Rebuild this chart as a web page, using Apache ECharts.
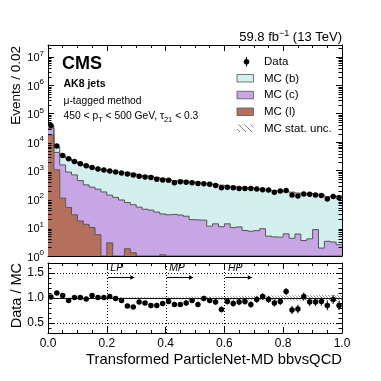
<!DOCTYPE html>
<html><head><meta charset="utf-8">
<script src="https://cdn.jsdelivr.net/npm/echarts@6.0.0/dist/echarts.min.js"></script>
<style>html,body{margin:0;padding:0;background:#fff}#c{width:381px;height:381px}</style>
</head><body><div id="c"></div>
<script>
// ---------------- data ----------------
const binEdges = [0.00,0.02,0.04,0.06,0.08,0.10,0.12,0.14,0.16,0.18,
  0.20,0.22,0.24,0.26,0.28,0.30,0.32,0.34,0.36,0.38,
  0.40,0.42,0.44,0.46,0.48,0.50,0.52,0.54,0.56,0.58,
  0.60,0.62,0.64,0.66,0.68,0.70,0.72,0.74,0.76,0.78,
  0.80,0.82,0.84,0.86,0.88,0.90,0.92,0.94,0.96,0.98,1.00];
const dataVals = [38900,7410,3390,2630,2090,1740,1480,1290,1150,1050,
  977,891,832,759,708,631,603,575,501,468,
  457,372,407,389,372,355,347,331,302,251,
  263,251,234,234,234,224,214,209,174,191,
  200,138,129,151,148,138,135,100,123,112];
const mcB = [7100,2330,1665,1759,1392,1283,1164,1007,916,862,
  822,785,767,774,737,648,616,599,545,500,
  462,421,422,405,381,371,342,334,311,299,
  271,268,247,244,248,224,206,207,190,195,
  174,172,157,146,154,140,141,119,124,125];
const mcC = [12900,3300,1477,840,680,430,303,253,218,178,
  135,115,93,74,62,52,44,41,35,29,
  28,29,27.5,25,19,18.6,18.2,11.2,13.5,10.7,
  13.5,10,10.5,7.9,7.4,7.8,9.1,5.0,4.7,4.6,
  6.0,4.2,5.9,3.5,4.0,8.5,1.9,3.3,3.1,2.5];
const mcL = [18000,1070,108,51,28,17,13,10,5.6,0,
  2.9,0,0,1.8,1.3,0,0,0,0,1.1,
  0,0,0,0,0,0,0,0,0,0,
  0,0,0,0,0,0,0,0,0,0,
  0,0,0,0,0,0,0,0,0,0];
const ratioVals = [1.02,1.10,1.05,0.95,1.01,1.01,0.98,1.05,1.01,1.01,
  1.03,0.99,0.95,0.84,0.82,0.92,0.90,0.85,0.85,0.89,
  0.93,0.87,0.87,0.90,0.95,0.87,0.99,0.95,0.92,0.77,
  0.93,0.89,0.92,0.93,0.87,0.97,1.03,0.97,0.90,0.93,
  1.13,0.76,0.78,1.03,0.92,0.92,0.93,0.85,0.97,0.85];
const ratioErr = [0.005,0.012,0.018,0.02,0.022,0.024,0.026,0.028,0.03,0.031,
  0.032,0.034,0.035,0.036,0.037,0.04,0.041,0.042,0.044,0.046,
  0.047,0.05,0.05,0.051,0.052,0.053,0.054,0.055,0.057,0.06,
  0.06,0.062,0.064,0.064,0.064,0.066,0.067,0.068,0.073,0.07,
  0.07,0.082,0.085,0.08,0.08,0.082,0.083,0.095,0.088,0.09];
const mcUnc = [0.01,0.012,0.012,0.012,0.012,0.013,0.014,0.014,0.015,0.016,
  0.017,0.018,0.019,0.02,0.021,0.022,0.023,0.024,0.025,0.026,
  0.027,0.028,0.029,0.03,0.031,0.032,0.034,0.035,0.036,0.038,
  0.04,0.042,0.043,0.044,0.045,0.046,0.047,0.048,0.05,0.05,
  0.052,0.053,0.054,0.055,0.056,0.057,0.058,0.06,0.06,0.062];
const xTickVals = [0.0,0.2,0.4,0.6,0.8,1.0];
const xTickLabels = ['0.0','0.2','0.4','0.6','0.8','1.0'];
const ratioTickVals = [0.5,1.0,1.5];
const ratioTickLabels = ['0.5','1.0','1.5'];
const ratioMinorVals = [0.4,0.6,0.7,0.8,0.9,1.1,1.2,1.3,1.4,1.6];
const wpCuts = [0.2,0.4,0.6];
const wpLabels = ['LP','MP','HP'];

// ---------------- chart ----------------
const YMIN = 1, YMAX = 2.6e7, RMIN = 0.3, RMAX = 1.7;
const FONT = '"Liberation Sans", Arial, Helvetica, sans-serif';
const C_B = '#d4f0ee', C_C = '#c8a5e4', C_L = '#b5705d', C_EDGE = '#555555', C_HATCH = '#777777';

const cumL = mcL.slice();
const cumC = mcL.map((v,i)=>v+mcC[i]);
const cumB = cumC.map((v,i)=>v+mcB[i]);
const centers = dataVals.map((_,i)=>(binEdges[i]+binEdges[i+1])/2);

function makeHatch(){
  const c=document.createElement('canvas'); c.width=6; c.height=6;
  const g=c.getContext('2d'); g.strokeStyle=C_HATCH; g.lineWidth=0.9;
  g.beginPath();
  g.moveTo(0,0); g.lineTo(6,6);
  g.moveTo(-3,3); g.lineTo(3,9);
  g.moveTo(3,-3); g.lineTo(9,3);
  g.stroke(); return c;
}
const hatch = {image: makeHatch(), repeat:'repeat'};

// diagonal hatch lines (top-left to bottom-right) clipped to a pixel rectangle
function hatchLines(xa, ya, xb, yb, step, out){
  const cMin=Math.floor((xa-yb)/step)*step, cMax=xb-ya;
  for(let c=cMin;c<=cMax;c+=step){
    const x0=Math.max(xa, ya+c), x1=Math.min(xb, yb+c);
    if(x1>x0) out.push({type:'line', shape:{x1:x0,y1:x0-c,x2:x1,y2:x1-c}, style:{stroke:C_HATCH, lineWidth:0.8}});
  }
}

function stepPts(api, vals, floor){
  const pts=[];
  for(let i=0;i<vals.length;i++){
    const v=Math.max(vals[i],floor);
    pts.push(api.coord([binEdges[i], v]));
    pts.push(api.coord([binEdges[i+1], v]));
  }
  return pts;
}
function stackSeries(lower, upper, color, z){
  return {type:'custom', xAxisIndex:0, yAxisIndex:0, silent:true, clip:true, z:z,
    data:[[0.5,10]],
    renderItem(params, api){
      const up=stepPts(api, upper, YMIN), lo=stepPts(api, lower, YMIN).reverse();
      return {type:'polygon', shape:{points:up.concat(lo)}, style:{fill:color}};
    }};
}
function edgeSeries(upper, z){
  return {type:'custom', xAxisIndex:0, yAxisIndex:0, silent:true, clip:true, z:z,
    data:[[0.5,10]],
    renderItem(params, api){
      return {type:'polyline', shape:{points:stepPts(api, upper, YMIN)}, style:{stroke:C_EDGE, lineWidth:1, fill:null}};
    }};
}
const zeroArr = dataVals.map(()=>0);

const tickCommon = {show:true, inside:true, length:6, lineStyle:{color:'#000', width:1}};
const lineCommon = {show:true, onZero:false, lineStyle:{color:'#000', width:1}};
const minorX = {show:true, splitNumber:4, length:3, lineStyle:{color:'#000'}};

const option = {
  animation:false,
  backgroundColor:'#fff',
  grid:[
    {left:48, top:45, width:294, height:211},
    {left:48, top:263, width:294, height:70}
  ],
  xAxis:[
    {type:'value', gridIndex:0, min:0, max:1, interval:0.2, position:'bottom',
      axisLine:lineCommon, axisTick:tickCommon, minorTick:minorX,
      axisLabel:{show:false}, splitLine:{show:false}, minorSplitLine:{show:false}},
    {type:'value', gridIndex:0, min:0, max:1, interval:0.2, position:'top',
      axisLine:lineCommon, axisTick:tickCommon, minorTick:minorX,
      axisLabel:{show:false}, splitLine:{show:false}},
    {type:'value', gridIndex:1, min:0, max:1, interval:0.2, position:'bottom',
      axisLine:lineCommon, axisTick:tickCommon, minorTick:minorX,
      axisLabel:{show:true, margin:5, fontSize:12, fontFamily:FONT, color:'#000',
        formatter:v=>{const k=xTickVals.findIndex(t=>Math.abs(t-v)<1e-6); return k<0?'':xTickLabels[k];}},
      splitLine:{show:false}},
    {type:'value', gridIndex:1, min:0, max:1, interval:0.2, position:'top',
      axisLine:lineCommon, axisTick:tickCommon, minorTick:minorX,
      axisLabel:{show:false}, splitLine:{show:false}}
  ],
  yAxis:[
    {type:'log', logBase:10, gridIndex:0, min:YMIN, max:YMAX, position:'left',
      axisLine:lineCommon, axisTick:tickCommon, splitLine:{show:false}, minorTick:{show:false},
      axisLabel:{show:true, margin:4, fontFamily:FONT, color:'#000',
        formatter:v=>{const n=Math.log10(v); const r=Math.round(n); return Math.abs(n-r)>1e-6?'':'{b|10}{s|'+r+'}';},
        rich:{b:{fontSize:11, fontFamily:FONT, color:'#000', lineHeight:14, verticalAlign:'bottom'},
              s:{fontSize:8, fontFamily:FONT, color:'#000', verticalAlign:'top'}}}},
    {type:'log', logBase:10, gridIndex:0, min:YMIN, max:YMAX, position:'right',
      axisLine:lineCommon, axisTick:tickCommon, splitLine:{show:false}, axisLabel:{show:false}},
    {type:'value', gridIndex:1, min:RMIN, max:RMAX, position:'left',
      axisLine:lineCommon, axisTick:Object.assign({}, tickCommon, {customValues:ratioTickVals}), splitLine:{show:false},
      axisLabel:{show:true, customValues:ratioTickVals, margin:4, fontSize:12, fontFamily:FONT, color:'#000',
        formatter:v=>{const k=ratioTickVals.findIndex(t=>Math.abs(t-v)<1e-6); return k<0?'':ratioTickLabels[k];}}},
    {type:'value', gridIndex:1, min:RMIN, max:RMAX, position:'right',
      axisLine:lineCommon, axisTick:Object.assign({}, tickCommon, {customValues:ratioTickVals}), splitLine:{show:false},
      axisLabel:{show:false}}
  ],
  series:[
    stackSeries(cumC, cumB, C_B, 2),
    stackSeries(cumL, cumC, C_C, 3),
    stackSeries(zeroArr, cumL, C_L, 4),
    edgeSeries(cumB, 5),
    edgeSeries(cumC, 6),
    edgeSeries(cumL, 7),
    // minor log ticks on left and right
    {type:'custom', xAxisIndex:0, yAxisIndex:0, silent:true, clip:false, z:8, data:[[0.5,10]],
      renderItem(params, api){
        const ch=[];
        for(let n=0;n<8;n++) for(let k=2;k<=9;k++){
          const v=k*Math.pow(10,n); if(v>=YMAX) continue;
          const pl=api.coord([0,v]), pr=api.coord([1,v]);
          const y=Math.round(pl[1])+0.5;
          ch.push({type:'line', shape:{x1:pl[0], y1:y, x2:pl[0]+3.5, y2:y}, style:{stroke:'#000', lineWidth:1}});
          ch.push({type:'line', shape:{x1:pr[0], y1:y, x2:pr[0]-3.5, y2:y}, style:{stroke:'#000', lineWidth:1}});
        }
        return {type:'group', children:ch};
      }},
    // data points (main)
    {type:'scatter', xAxisIndex:0, yAxisIndex:0, z:10, symbol:'circle', symbolSize:5.5,
      itemStyle:{color:'#000', opacity:1}, data:centers.map((c,i)=>[c, dataVals[i]])},
    // ratio: MC stat unc hatch band
    {type:'custom', xAxisIndex:2, yAxisIndex:2, silent:true, clip:true, z:2, data:[[0.5,1]],
      renderItem(params, api){
        const ch=[];
        for(let i=0;i<mcUnc.length;i++){
          const a=api.coord([binEdges[i],1+mcUnc[i]]), b=api.coord([binEdges[i+1],1-mcUnc[i]]);
          hatchLines(a[0], a[1], b[0], b[1], 3, ch);
        }
        return {type:'group', children:ch};
      }},
    // ratio: reference lines
    {type:'custom', xAxisIndex:2, yAxisIndex:2, silent:true, clip:true, z:3, data:[[0.5,1]],
      renderItem(params, api){
        const ch=[];
        const a1=api.coord([0,1.0]), b1=api.coord([1,1.0]); const y1=Math.round(a1[1])+0.5;
        ch.push({type:'line', shape:{x1:a1[0],y1:y1,x2:b1[0],y2:y1}, style:{stroke:'#111', lineWidth:1}});
        [1.5,0.5].forEach(v=>{const a=api.coord([0,v]), b=api.coord([1,v]); const y=Math.round(a[1])+0.5;
          ch.push({type:'line', shape:{x1:a[0],y1:y,x2:b[0],y2:y}, style:{stroke:'#000', lineWidth:1, lineDash:[1,2]}});});
        wpCuts.forEach(x=>{const a=api.coord([x,RMIN]), b=api.coord([x,RMAX]); const xx=Math.round(a[0])+0.5;
          ch.push({type:'line', shape:{x1:xx,y1:a[1],x2:xx,y2:b[1]}, style:{stroke:'#000', lineWidth:1, lineDash:[1,2]}});});
        return {type:'group', children:ch};
      }},
    // ratio: minor y ticks both sides
    {type:'custom', xAxisIndex:2, yAxisIndex:2, silent:true, clip:false, z:8, data:[[0.5,1]],
      renderItem(params, api){
        const ch=[];
        ratioMinorVals.forEach(v=>{const pl=api.coord([0,v]), pr=api.coord([1,v]); const y=Math.round(pl[1])+0.5;
          ch.push({type:'line', shape:{x1:pl[0],y1:y,x2:pl[0]+3.5,y2:y}, style:{stroke:'#000', lineWidth:1}});
          ch.push({type:'line', shape:{x1:pr[0],y1:y,x2:pr[0]-3.5,y2:y}, style:{stroke:'#000', lineWidth:1}});});
        return {type:'group', children:ch};
      }},
    // LP / MP / HP labels with arrows
    {type:'custom', xAxisIndex:2, yAxisIndex:2, silent:true, clip:false, z:9,
      data:wpCuts.map((x,i)=>[x,1.42,i]), encode:{x:0,y:1},
      renderItem(params, api){
        const x=api.value(0), i=api.value(2);
        const p0=api.coord([x,1.42]), p1=api.coord([x+0.095,1.42]), pt=api.coord([x+0.012,1.5]);
        const y=Math.round(p0[1])+0.5;
        return {type:'group', children:[
          {type:'text', x:pt[0], y:pt[1]+0.5, style:{text:wpLabels[i], fontSize:10.5, fontStyle:'italic', fontFamily:FONT, fill:'#000', align:'left', verticalAlign:'bottom'}},
          {type:'line', shape:{x1:p0[0]+1, y1:y, x2:p1[0]-3, y2:y}, style:{stroke:'#000', lineWidth:1}},
          {type:'polygon', shape:{points:[[p1[0],y],[p1[0]-4.5,y-2.2],[p1[0]-4.5,y+2.2]]}, style:{fill:'#000'}}
        ]};
      }},
    // ratio error bars
    {type:'custom', xAxisIndex:2, yAxisIndex:2, silent:true, clip:true, z:9,
      data:centers.map((c,i)=>[c, ratioVals[i], ratioErr[i]]), encode:{x:0,y:1},
      renderItem(params, api){
        const c=api.value(0), v=api.value(1), e=api.value(2);
        const a=api.coord([c,v+e]), b=api.coord([c,v-e]);
        return {type:'line', shape:{x1:a[0],y1:a[1],x2:b[0],y2:b[1]}, style:{stroke:'#000', lineWidth:1}};
      }},
    {type:'scatter', xAxisIndex:2, yAxisIndex:2, z:10, symbol:'circle', symbolSize:5.5,
      itemStyle:{color:'#000', opacity:1}, data:centers.map((c,i)=>[c, ratioVals[i]])}
  ],
  graphic:[
    {type:'text', x:342, y:37.5, z:20, style:{text:'{a|59.8 fb}{s|−1}{a| (13 TeV)}', align:'right', verticalAlign:'middle',
      rich:{a:{fontSize:13, fontFamily:FONT, fill:'#000', lineHeight:16}, s:{fontSize:9, fontFamily:FONT, fill:'#000', verticalAlign:'top'}}}},
    {type:'text', x:62, y:64.5, z:20, style:{text:'CMS', fontSize:18, fontWeight:'bold', fontFamily:FONT, fill:'#000', align:'left', verticalAlign:'middle'}},
    {type:'text', x:63.5, y:84.3, z:20, style:{text:'AK8 jets', fontSize:10.5, fontWeight:'bold', fontFamily:FONT, fill:'#000', align:'left', verticalAlign:'middle'}},
    {type:'text', x:63.5, y:101, z:20, style:{text:'μ-tagged method', fontSize:10.3, fontFamily:FONT, fill:'#000', align:'left', verticalAlign:'middle'}},
    {type:'text', x:63.5, y:116.5, z:20, style:{text:'{a|450 < p}{b|T}{a| < 500 GeV, τ}{b|21}{a| < 0.3}', align:'left', verticalAlign:'middle',
      rich:{a:{fontSize:10.3, fontFamily:FONT, fill:'#000', lineHeight:15}, b:{fontSize:7.5, fontFamily:FONT, fill:'#000', verticalAlign:'bottom'}}}},
    // legend
    {type:'line', z:20, shape:{x1:246.5,y1:57,x2:246.5,y2:66.5}, style:{stroke:'#000', lineWidth:1}},
    {type:'circle', z:20, shape:{cx:246.5, cy:61.7, r:2.8}, style:{fill:'#000'}},
    {type:'text', x:264, y:62, z:20, style:{text:'Data', fontSize:11.5, fontFamily:FONT, fill:'#000', align:'left', verticalAlign:'middle'}},
    {type:'rect', z:20, shape:{x:237, y:74.5, width:16.5, height:7.5}, style:{fill:C_B, stroke:C_EDGE, lineWidth:0.8}},
    {type:'text', x:264, y:78.5, z:20, style:{text:'MC (b)', fontSize:11.5, fontFamily:FONT, fill:'#000', align:'left', verticalAlign:'middle'}},
    {type:'rect', z:20, shape:{x:237, y:91.3, width:16.5, height:7.5}, style:{fill:C_C, stroke:C_EDGE, lineWidth:0.8}},
    {type:'text', x:264, y:95.2, z:20, style:{text:'MC (c)', fontSize:11.5, fontFamily:FONT, fill:'#000', align:'left', verticalAlign:'middle'}},
    {type:'rect', z:20, shape:{x:237, y:108, width:16.5, height:7.5}, style:{fill:C_L, stroke:C_EDGE, lineWidth:0.8}},
    {type:'text', x:264, y:112, z:20, style:{text:'MC (l)', fontSize:11.5, fontFamily:FONT, fill:'#000', align:'left', verticalAlign:'middle'}},
    {type:'rect', z:20, shape:{x:237, y:124.5, width:16.5, height:7.5}, style:{fill:hatch}},
    {type:'text', x:264, y:128.5, z:20, style:{text:'MC stat. unc.', fontSize:11.5, fontFamily:FONT, fill:'#000', align:'left', verticalAlign:'middle'}},
    // axis titles
    {type:'text', x:16.5, y:46, rotation:Math.PI/2, z:20, style:{text:'Events / 0.02', fontSize:13.5, fontFamily:FONT, fill:'#000', align:'right', verticalAlign:'middle'}},
    {type:'text', x:16.5, y:263, rotation:Math.PI/2, z:20, style:{text:'Data / MC', fontSize:14.5, fontFamily:FONT, fill:'#000', align:'right', verticalAlign:'middle'}},
    {type:'text', x:342, y:359.5, z:20, style:{text:'Transformed ParticleNet-MD bbvsQCD', fontSize:14.8, fontFamily:FONT, fill:'#000', align:'right', verticalAlign:'middle'}}
  ]
};
const chart = echarts.init(document.getElementById('c'), null, {renderer:'canvas'});
chart.setOption(option);
</script>
</body></html>
